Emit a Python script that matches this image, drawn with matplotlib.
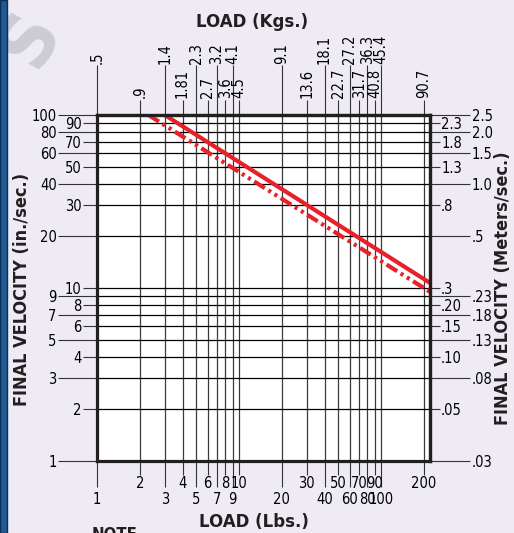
import numpy as np
import matplotlib
matplotlib.use('Agg')
from matplotlib import pyplot as plt
from matplotlib.patches import Rectangle

plt.rcParams['font.family'] = ['DejaVu Sans']
plt.rcParams['font.stretch'] = 'condensed'

# DADOS

# carga (lbs) - ticks longos e curtos
lbs_longo = [1, 3, 5, 7, 9, 20, 40, 60, 80, 100]
lbs_curto = [2, 4, 6, 8, 10, 30, 50, 70, 90, 200]
kg_longo = ['.5', '1.4', '2.3', '3.2', '4.1', '9.1', '18.1', '27.2', '36.3', '45.4']
kg_curto = ['.9', '1.81', '2.7', '3.6', '4.5', '13.6', '22.7', '31.7', '40.8', '90.7']

# velocidade (in/s)
vel_longo = [1, 3, 5, 7, 9, 20, 40, 60, 80, 100]
vel_curto = [2, 4, 6, 8, 10, 30, 50, 70, 90]
ms_longo = ['.03', '.08', '.13', '.18', '.23', '.5', '1.0', '1.5', '2.0', '2.5']
ms_curto = ['.05', '.10', '.15', '.20', '.3', '.8', '1.3', '1.8', '2.3']

# curvas
carga_solida = [3.0, 221]
vel_solida = [100, 10.7]
carga_traco = [2.3, 221]
vel_traco = [100, 9.5]

x_max = 221

# PLOT

fundo = '#eeebf4'
vermelho = '#e8202a'
cinza_tick = '#333333'
tam = 10.5

fig = plt.figure(figsize=(5.14, 5.33), dpi=100, facecolor=fundo)
ax = fig.add_axes([97/514, 72/533, 333/514, 346/533])
ax.set_facecolor('white')
ax.set_xscale('log')
ax.set_yscale('log')
ax.set_xlim(1, x_max)
ax.set_ylim(1, 100)

ax.plot(carga_solida, vel_solida, color=vermelho, linewidth=3, solid_capstyle='butt', zorder=4)
ax.plot(carga_traco, vel_traco, color=vermelho, linewidth=3,
        linestyle=(0, (3, 1, 0.75, 1, 0.75, 1)), dash_capstyle='butt', zorder=4)

# eixo de baixo
ax.set_xticks(lbs_longo, [str(v) for v in lbs_longo])
ax.set_xticks(lbs_curto, [str(v) for v in lbs_curto], minor=True)
ax.tick_params(axis='x', which='major', length=19, pad=3, width=0.8, color=cinza_tick, labelsize=tam)
ax.tick_params(axis='x', which='minor', length=10, pad=0.5, width=0.8, color=cinza_tick, labelsize=tam)

# eixo da esquerda
ax.set_yticks(vel_longo, [str(v) for v in vel_longo])
ax.set_yticks(vel_curto, [str(v) for v in vel_curto], minor=True)
ax.tick_params(axis='y', which='major', length=28, pad=1, width=0.8, color=cinza_tick, labelsize=tam)
ax.tick_params(axis='y', which='minor', length=10, pad=1, width=0.8, color=cinza_tick, labelsize=tam)

# eixo de cima (kg)
topo = ax.secondary_xaxis('top')
topo.set_xticks(lbs_longo, kg_longo)
topo.set_xticks(lbs_curto, kg_curto, minor=True)
topo.tick_params(axis='x', which='major', length=36, pad=1, width=0.8, color=cinza_tick, labelsize=tam, labelrotation=90)
topo.tick_params(axis='x', which='minor', length=11, pad=1, width=0.8, color=cinza_tick, labelsize=tam, labelrotation=90)

# eixo da direita (m/s)
direita = ax.secondary_yaxis('right')
direita.set_yticks(vel_longo, ms_longo)
direita.set_yticks(vel_curto, ms_curto, minor=True)
direita.tick_params(axis='y', which='major', length=29, pad=1, width=0.8, color=cinza_tick, labelsize=tam)
direita.tick_params(axis='y', which='minor', length=7, pad=1, width=0.8, color=cinza_tick, labelsize=tam)

ax.xaxis.grid(True, which='both', color='#3a3a3a', linewidth=0.9, zorder=1)
ax.yaxis.grid(True, which='both', color='black', linewidth=0.9, zorder=1)

for lado in ax.spines.values():
    lado.set_linewidth(2.3)
    lado.set_color('#231f20')
    lado.set_zorder(5)
topo.spines['top'].set_linewidth(2.3)
topo.spines['top'].set_color('#231f20')
direita.spines['right'].set_linewidth(2.3)
direita.spines['right'].set_color('#231f20')

# textos
fig.text(252/514, 1 - 22/533, 'LOAD (Kgs.)', fontsize=13.3, fontweight='bold', ha='center', va='center', color='#231f20')
fig.text(254/514, 1 - 522/533, 'LOAD (Lbs.)', fontsize=13.3, fontweight='bold', ha='center', va='center', color='#231f20')
fig.text(22/514, 1 - 289/533, 'FINAL VELOCITY (in./sec.)', fontsize=13, fontweight='bold', rotation=90,
         ha='center', va='center', color='#231f20')
fig.text(503/514, 1 - 288/533, 'FINAL VELOCITY (Meters/sec.)', fontsize=13, fontweight='bold', rotation=90,
         ha='center', va='center', color='#231f20')
fig.text(92/514, 1 - 526/533, 'NOTE', fontsize=12, fontweight='bold', ha='left', va='top', color='#231f20')

# marca d'agua e faixa azul
fig.text(30/514, 1 - 40/533, 'S', fontsize=55, fontweight='bold', rotation=60, color='#cdcbd4',
         ha='center', va='center', zorder=0)
fig.patches.append(Rectangle((0, 0), 7/514, 1, transform=fig.transFigure, facecolor='#1f5a96',
                             edgecolor='#0d2f55', linewidth=1))

fig.savefig('out.png', dpi=100, facecolor=fundo)
